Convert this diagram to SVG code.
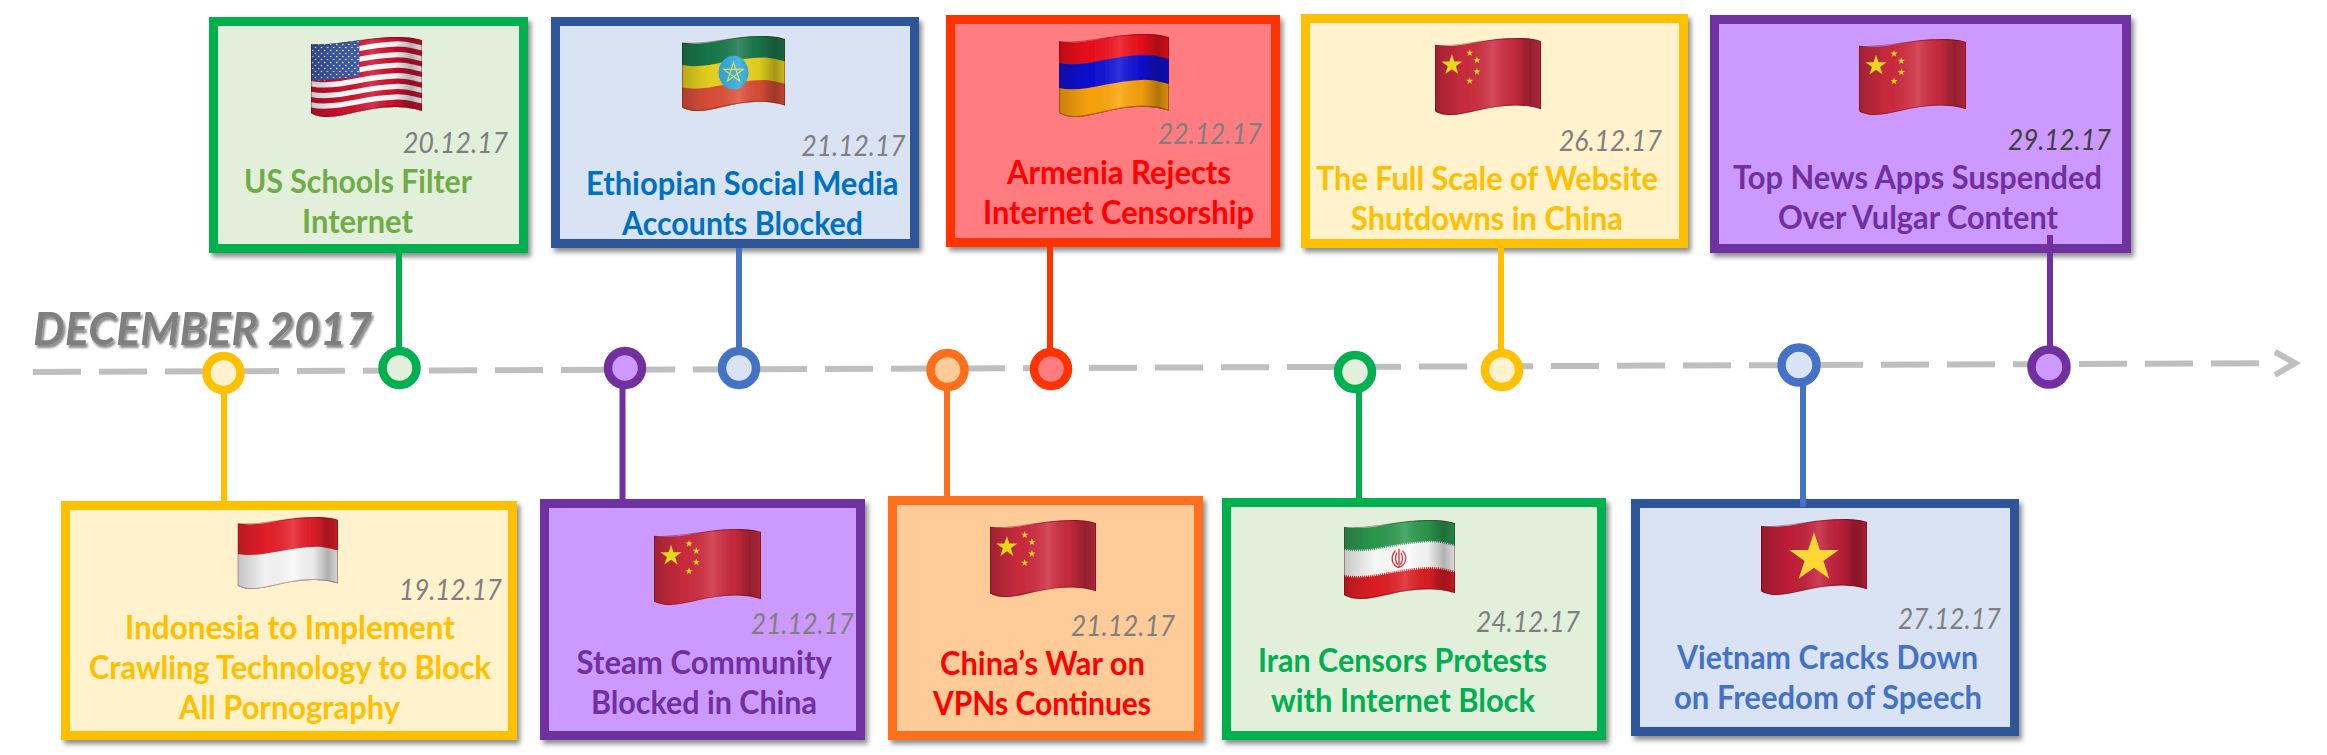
<svg xmlns="http://www.w3.org/2000/svg" width="2327" height="755" viewBox="0 0 2327 755">
<style>
.box{stroke-width:9}
.t{font-family:Lato,"Liberation Sans",sans-serif;font-weight:700;font-size:32px}
.d{font-family:Lato,"Liberation Sans",sans-serif;font-style:italic;font-size:28.500px;fill:#7f7f7f}
.h{font-family:Lato,"Liberation Sans",sans-serif;font-weight:700;font-style:italic;font-size:45px;fill:#7f7f7f}
.c{stroke-width:6;fill:none}
.m{stroke-width:8.5}
.fl{filter:url(#soft)}
.yel{stroke:#ffc000}.yelf{fill:#fff2cc}.yelt{fill:#ffc000}
.grn{stroke:#00b050}.grnf{fill:#e2efda}
.nav{stroke:#2f5597}.bluf{fill:#dae3f3}
.blu{stroke:#4472c4}
.red{stroke:#ff3300}.redf{fill:#ff7c80}
.pur{stroke:#7030a0}.purf{fill:#cc99ff}.purt{fill:#7030a0}
.org{stroke:#ff6f1b}.orgf{fill:#ffcb98}
</style>
<defs>
<filter id="sh" x="-5%" y="-5%" width="112%" height="115%"><feDropShadow dx="3" dy="4" stdDeviation="2.5" flood-color="#000" flood-opacity=".45"/></filter>
<filter id="ts" x="-5%" y="-10%" width="110%" height="130%"><feDropShadow dx="2" dy="3" stdDeviation="1.2" flood-color="#000" flood-opacity=".45"/></filter>
<filter id="soft" x="-5%" y="-5%" width="110%" height="110%"><feGaussianBlur stdDeviation=".5"/></filter>
<linearGradient id="shade"><stop offset="0" stop-color="#000" stop-opacity=".22"/><stop offset=".28" stop-color="#000" stop-opacity=".03"/><stop offset=".55" stop-color="#fff" stop-opacity=".14"/><stop offset=".75" stop-color="#000" stop-opacity=".06"/><stop offset=".9" stop-color="#000" stop-opacity=".3"/><stop offset="1" stop-color="#000" stop-opacity=".14"/></linearGradient>
<path id="fp" d="M0,7 C27,9 50,0 86,0 C97,0 104,1 110,3 L110,74 C101,71 93,70 82,70 C55,70 33,80 16,80 C9,80 3,78 0,76 Z"/>
<clipPath id="fc"><use href="#fp"/></clipPath>
<path id="w" d="M0,0 C25,5 50,-7 86,-8 C97,-8 104,-5 110,-4 V90 H0 Z"/>
<path id="wl" d="M0,0 C25,5 50,-7 86,-8 C97,-8 104,-5 110,-4" fill="none"/>
<polygon id="s" points="0,-1 .2245,-.309 .951,-.309 .363,.118 .588,.809 0,.382 -.588,.809 -.363,.118 -.951,-.309 -.2245,-.309"/>
<pattern id="dots" width="6" height="6" patternUnits="userSpaceOnUse"><circle cx="1.5" cy="1.5" r=".8" fill="#fff"/><circle cx="4.5" cy="4.5" r=".8" fill="#fff"/></pattern>
<g id="over"><use href="#fp" fill="url(#shade)"/><use href="#fp" fill="none" stroke="#400" stroke-opacity=".35" stroke-width="2"/></g>
<symbol id="f-us" viewBox="0 0 110 80" preserveAspectRatio="none"><g clip-path="url(#fc)">
<use href="#w" y="7" fill="#d0122f"/><use href="#w" y="12.3" fill="#fff"/><use href="#w" y="17.6" fill="#d0122f"/><use href="#w" y="22.9" fill="#fff"/><use href="#w" y="28.2" fill="#d0122f"/><use href="#w" y="33.5" fill="#fff"/><use href="#w" y="38.8" fill="#d0122f"/><use href="#w" y="44.1" fill="#fff"/><use href="#w" y="49.4" fill="#d0122f"/><use href="#w" y="54.7" fill="#fff"/><use href="#w" y="60" fill="#d0122f"/><use href="#w" y="65.3" fill="#fff"/><use href="#w" y="70.6" fill="#d0122f"/>
<path d="M0,0 H48 V39 C30,41 15,45 0,43 Z" fill="#3c5aa6"/><path d="M0,0 H48 V39 C30,41 15,45 0,43 Z" fill="url(#dots)"/>
<use href="#over"/></g></symbol>
<symbol id="f-et" viewBox="0 0 110 80" preserveAspectRatio="none"><g clip-path="url(#fc)">
<use href="#w" y="7" fill="#1a7a4c"/><use href="#w" y="31" fill="#ecd720"/><use href="#w" y="55" fill="#e0503a"/>
<ellipse cx="55" cy="39" rx="16" ry="18" fill="#2fa8dc"/>
<path d="M55,28 L61.5,47.9 L44.5,35.6 L65.5,35.6 L48.5,47.9 Z" fill="none" stroke="#e8e04a" stroke-width="1.2"/>
<use href="#over"/></g></symbol>
<symbol id="f-am" viewBox="0 0 110 80" preserveAspectRatio="none"><g clip-path="url(#fc)">
<use href="#w" y="7" fill="#f0101c"/><use href="#w" y="28" fill="#1010d8"/><use href="#w" y="52" fill="#ffa50a"/>
<use href="#over"/></g></symbol>
<symbol id="f-cn" viewBox="0 0 110 80" preserveAspectRatio="none"><g clip-path="url(#fc)">
<use href="#w" y="7" fill="#cf2c40"/>
<use href="#over"/>
<g fill="#e8d81c"><use href="#s" transform="translate(17.5 28) scale(11.5)"/><use href="#s" transform="translate(36 15.5) scale(4)"/><use href="#s" transform="translate(43.5 23) scale(4)"/><use href="#s" transform="translate(43.5 35) scale(4)"/><use href="#s" transform="translate(36 44.5) scale(4)"/></g>
</g></symbol>
<symbol id="f-id" viewBox="0 0 110 80" preserveAspectRatio="none"><g clip-path="url(#fc)">
<use href="#w" y="7" fill="#e8202a"/><use href="#w" y="41" fill="#fafafa"/>
<use href="#over"/></g></symbol>
<symbol id="f-ir" viewBox="0 0 110 80" preserveAspectRatio="none"><g clip-path="url(#fc)">
<use href="#w" y="7" fill="#2d9c50"/><use href="#w" y="29" fill="#fff"/><use href="#w" y="57" fill="#e21f26"/>
<use href="#wl" y="29" stroke="#3a9e5c" stroke-width="3" stroke-dasharray="1 1"/><use href="#wl" y="57" stroke="#e21f26" stroke-width="3" stroke-dasharray="1 1"/>
<g fill="none" stroke="#e02028" stroke-width="1.3"><path d="M54.5,29 V48"/><path d="M51,31 C45,38 48,46 54,48 C61,46 64,38 58,31"/><path d="M52.5,33 C50,38 51,43 53.5,45"/><path d="M56.5,33 C59,38 58,43 55.5,45"/></g>
<use href="#over"/></g></symbol>
<symbol id="f-vn" viewBox="0 0 110 80" preserveAspectRatio="none"><g clip-path="url(#fc)">
<use href="#w" y="7" fill="#c4203a"/>
<use href="#over"/>
<use href="#s" transform="translate(55 41) scale(27)" fill="#ffd836"/>
</g></symbol>
</defs>

<rect width="2327" height="755" fill="#fff"/>

<g id="title"><text class="h" x="33" y="345" textLength="339" lengthAdjust="spacingAndGlyphs" filter="url(#ts)">DECEMBER 2017</text></g>

<g id="n-us"><rect class="box grn grnf" x="213.500" y="21.500" width="310" height="227" filter="url(#sh)"/><use class="fl" href="#f-us" x="311" y="37" width="111" height="80"/><text class="d" x="403" y="153" textLength="105" lengthAdjust="spacingAndGlyphs">20.12.17</text><text class="t" fill="#70ad47" x="244" y="193" textLength="228" lengthAdjust="spacingAndGlyphs">US Schools Filter</text><text class="t" fill="#70ad47" x="302" y="233" textLength="111" lengthAdjust="spacingAndGlyphs">Internet</text></g>

<g id="n-et"><rect class="box nav bluf" x="555.500" y="21.500" width="359" height="222" filter="url(#sh)"/><use class="fl" href="#f-et" x="682" y="36" width="103" height="75"/><text class="d" x="801.500" y="156" textLength="104" lengthAdjust="spacingAndGlyphs">21.12.17</text><text class="t" fill="#0070c0" x="586" y="195" textLength="312.500" lengthAdjust="spacingAndGlyphs">Ethiopian Social Media</text><text class="t" fill="#0070c0" x="622" y="235" textLength="241" lengthAdjust="spacingAndGlyphs">Accounts Blocked</text></g>

<g id="n-am"><rect class="box red redf" x="950.500" y="19.500" width="325" height="223" filter="url(#sh)"/><use class="fl" href="#f-am" x="1059" y="34" width="110" height="83"/><text class="d" x="1158" y="144" textLength="104" lengthAdjust="spacingAndGlyphs">22.12.17</text><text class="t" fill="#ff0000" x="1007" y="184" textLength="224" lengthAdjust="spacingAndGlyphs">Armenia Rejects</text><text class="t" fill="#ff0000" x="983" y="224" textLength="271" lengthAdjust="spacingAndGlyphs">Internet Censorship</text></g>

<g id="n-cn-yellow"><rect class="box yel yelf" x="1305.500" y="18.500" width="378" height="225" filter="url(#sh)"/><use class="fl" href="#f-cn" x="1435" y="38" width="106" height="77"/><text class="d" x="1559" y="151" textLength="103" lengthAdjust="spacingAndGlyphs">26.12.17</text><text class="t yelt" x="1316" y="190" textLength="342" lengthAdjust="spacingAndGlyphs">The Full Scale of Website</text><text class="t yelt" x="1351" y="230" textLength="272" lengthAdjust="spacingAndGlyphs">Shutdowns in China</text></g>

<g id="n-cn-purple"><rect class="box pur purf" x="1714.500" y="19.500" width="412" height="229" filter="url(#sh)"/><use class="fl" href="#f-cn" x="1859" y="39" width="107" height="76"/><text class="d" style="fill:#404040" x="2008" y="150" textLength="103" lengthAdjust="spacingAndGlyphs">29.12.17</text><text class="t purt" x="1733" y="189" textLength="369" lengthAdjust="spacingAndGlyphs">Top News Apps Suspended</text><text class="t purt" x="1778" y="229" textLength="280" lengthAdjust="spacingAndGlyphs">Over Vulgar Content</text></g>

<g id="n-id"><rect class="box yel yelf" x="65.500" y="505.500" width="447" height="230" filter="url(#sh)"/><use class="fl" href="#f-id" x="237.500" y="517" width="100.500" height="72"/><text class="d" x="399" y="600" textLength="103" lengthAdjust="spacingAndGlyphs">19.12.17</text><text class="t yelt" x="125" y="639" textLength="330" lengthAdjust="spacingAndGlyphs">Indonesia to Implement</text><text class="t yelt" x="89" y="679" textLength="402" lengthAdjust="spacingAndGlyphs">Crawling Technology to Block</text><text class="t yelt" x="179" y="719" textLength="221" lengthAdjust="spacingAndGlyphs">All Pornography</text></g>

<g id="n-cn-steam"><rect class="box pur purf" x="544.500" y="503.500" width="316" height="232" filter="url(#sh)"/><use class="fl" href="#f-cn" x="654" y="529" width="107" height="76"/><text class="d" x="751" y="634" textLength="103" lengthAdjust="spacingAndGlyphs">21.12.17</text><text class="t purt" x="576.500" y="674" textLength="255.500" lengthAdjust="spacingAndGlyphs">Steam Community</text><text class="t purt" x="591" y="714" textLength="226" lengthAdjust="spacingAndGlyphs">Blocked in China</text></g>

<g id="n-cn-vpn"><rect class="box org orgf" x="892.500" y="500.500" width="306" height="235" filter="url(#sh)"/><use class="fl" href="#f-cn" x="990" y="520" width="106" height="77"/><text class="d" x="1071" y="636" textLength="104" lengthAdjust="spacingAndGlyphs">21.12.17</text><text class="t" fill="#ff0000" x="940" y="675" textLength="205" lengthAdjust="spacingAndGlyphs">China’s War on</text><text class="t" fill="#ff0000" x="933" y="715" textLength="218" lengthAdjust="spacingAndGlyphs">VPNs Continues</text></g>

<g id="n-ir"><rect class="box grn grnf" x="1226.500" y="502.500" width="375" height="233" filter="url(#sh)"/><use class="fl" href="#f-ir" x="1344" y="520" width="111" height="79"/><text class="d" x="1476" y="632" textLength="104" lengthAdjust="spacingAndGlyphs">24.12.17</text><text class="t" fill="#00b050" x="1258" y="672" textLength="289" lengthAdjust="spacingAndGlyphs">Iran Censors Protests</text><text class="t" fill="#00b050" x="1271" y="712" textLength="264" lengthAdjust="spacingAndGlyphs">with Internet Block</text></g>

<g id="n-vn"><rect class="box nav bluf" x="1635.500" y="503.500" width="379" height="228" filter="url(#sh)"/><use class="fl" href="#f-vn" x="1761" y="519" width="106" height="76"/><text class="d" x="1898" y="629" textLength="103" lengthAdjust="spacingAndGlyphs">27.12.17</text><text class="t" fill="#4472c4" x="1677" y="669" textLength="301" lengthAdjust="spacingAndGlyphs">Vietnam Cracks Down</text><text class="t" fill="#4472c4" x="1674" y="709" textLength="308" lengthAdjust="spacingAndGlyphs">on Freedom of Speech</text></g>

<g id="connectors">
<path class="c" d="M33,372 L2259,363.300" stroke="#bfbfbf" stroke-dasharray="48 18"/>
<path class="c" d="M2275,352 L2295,363 L2275,375" stroke="#bfbfbf"/>
<path class="c grn" d="M399,253 V360"/>
<path class="c blu" d="M739,248 V360"/>
<path class="c red" d="M1050,247 V360"/>
<path class="c yel" d="M1501,248 V360"/>
<path class="c pur" d="M2050,235 V360"/>
<path class="c yel" d="M224,380 V501"/>
<path class="c pur" d="M622.500,375 V499"/>
<path class="c org" d="M947,378 V496"/>
<path class="c grn" d="M1359,380 V498"/>
<path class="c blu" d="M1803,372 V507"/>
</g>

<g id="m-19"><circle class="m yel yelf" cx="223.500" cy="373" r="17"/></g>
<g id="m-20"><circle class="m grn grnf" cx="399.500" cy="368" r="17"/></g>
<g id="m-21a"><circle class="m pur purf" cx="625" cy="368" r="17"/></g>
<g id="m-21b"><circle class="m blu bluf" cx="739" cy="368" r="17"/></g>
<g id="m-21c"><circle class="m org orgf" cx="947.500" cy="370" r="17"/></g>
<g id="m-22"><circle class="m red redf" cx="1051" cy="369" r="17"/></g>
<g id="m-24"><circle class="m grn grnf" cx="1355" cy="372" r="17"/></g>
<g id="m-26"><circle class="m yel yelf" cx="1502" cy="370" r="17"/></g>
<g id="m-27"><circle class="m blu bluf" cx="1799" cy="365" r="17.500"/></g>
<g id="m-29"><circle class="m pur purf" cx="2049" cy="367" r="17.500"/></g>
</svg>
